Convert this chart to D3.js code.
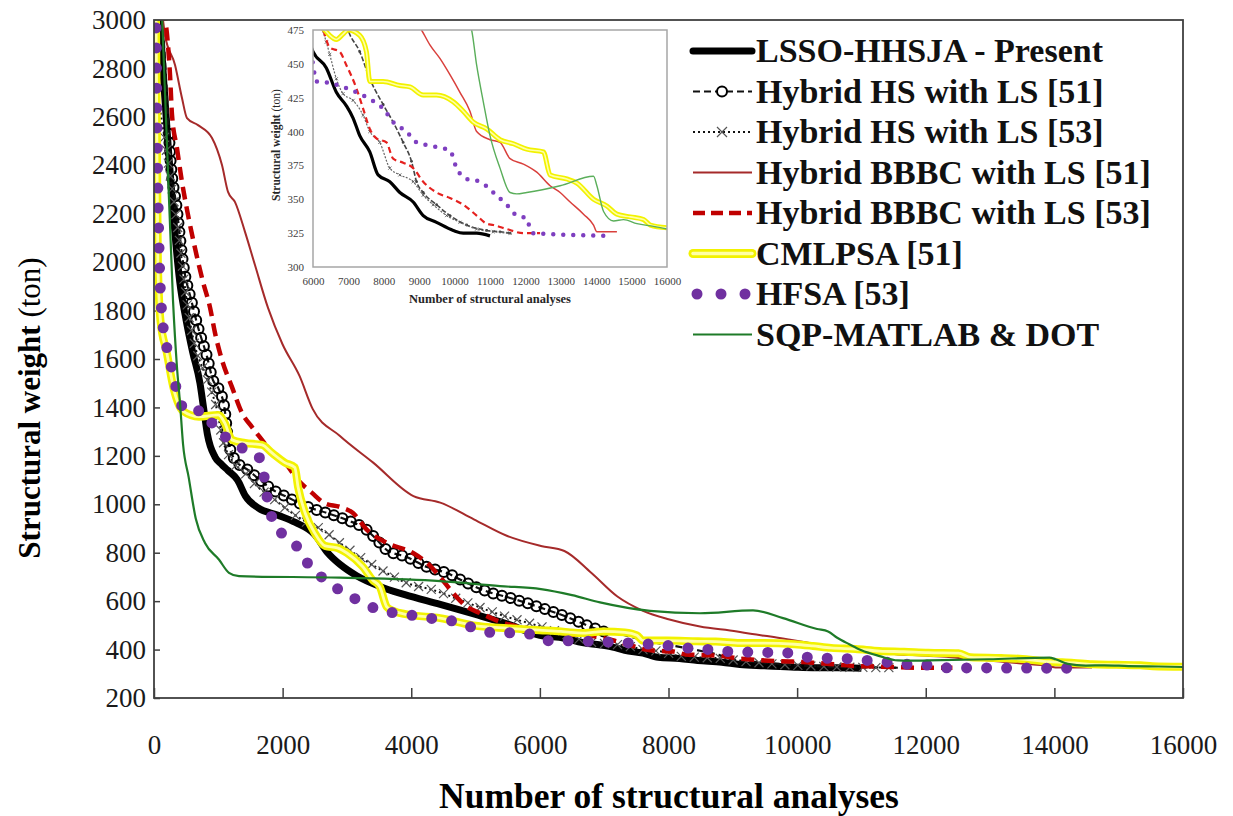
<!DOCTYPE html>
<html>
<head>
<meta charset="utf-8">
<script src="https://cdnjs.cloudflare.com/ajax/libs/d3/7.8.5/d3.min.js"></script>
<style>
  body { margin: 0; background: #fff; }
  text { font-family: "Liberation Serif", "Times New Roman", serif; }
</style>
</head>
<body>
<div id="chart"></div>
<script>
// ----------------- //
// Data: [number of structural analyses, structural weight (ton)]
// ----------------- //
var lsso = [[80,3050],[150,2750],[220,2480],[300,2200],[400,1920],[500,1760],[600,1630],[715,1500],[770,1400],[830,1290],[950,1195],[1050,1165],[1150,1140],[1300,1100],[1420,1035],[1620,985],[1930,955],[2200,925],[2500,875],[2700,800],[2900,750],[3150,705],[3500,662],[3900,627],[4450,587],[5000,545],[5500,505],[6000,459],[6377,447],[6660,429],[6943,419],[7132,410],[7320,397],[7604,385],[7840,368],[8170,363],[8453,355],[8830,348],[9113,338],[9490,333],[9962,327],[10245,325],[10623,325],[11000,323]]

var hs51 = [[120,3050],[200,2700],[250,2450],[357,2216],[450,2000],[590,1831],[684,1732],[824,1610],[917,1513],[1000,1480],[1100,1390],[1150,1270],[1260,1183],[1460,1142],[1650,1100],[1850,1059],[2070,1030],[2380,990],[2690,964],[3000,935],[3310,894],[3470,852],[3620,811],[3930,782],[4245,741],[4556,716],[4867,675],[5178,640],[5490,617],[5800,592],[6100,565],[6420,535],[6780,495],[6990,475],[7320,459],[7604,439],[7981,420],[8264,407],[8547,392],[8783,378],[8925,363],[9113,355],[9490,346],[9868,338],[10340,331],[10906,327],[11283,326],[11566,325]]

var hs53 = [[0,2780],[200,2450],[380,2120],[530,1800],[650,1640],[750,1567],[870,1484],[980,1389],[1070,1266],[1210,1183],[1415,1129],[1617,1071],[1882,1018],[2146,964],[2395,923],[2580,900],[2890,840],[3200,782],[3620,716],[3930,675],[4340,646],[4760,605],[5180,563],[5490,535],[5890,505],[6200,480],[6377,466],[6472,457],[6660,439],[6849,428],[7132,423],[7415,412],[7604,400],[7887,392],[8170,373],[8453,368],[8830,363],[9113,353],[9396,346],[9774,338],[10151,333],[10623,328],[11094,326],[11566,325]]

var bbbc51 = [[140,3000],[171,2938],[327,2814],[435,2678],[513,2595],[684,2566],[902,2513],[1057,2401],[1151,2290],[1260,2248],[1415,2125],[1570,1988],[1773,1811],[2000,1660],[2261,1531],[2469,1393],[2887,1283],[3408,1172],[4034,1034],[4451,1007],[4973,938],[5494,869],[6016,828],[6381,807],[6798,717],[7200,620],[7604,560],[8000,525],[8490,495],[9066,475],[9302,464],[9585,454],[9868,442],[10151,429],[10434,415],[10623,400],[11000,394],[11283,392],[11566,380],[11943,376],[12321,370],[12698,360],[12981,355],[13264,348],[13642,339],[13925,331],[14019,326],[14585,326]]

var bbbc53 = [[150,3050],[249,2773],[280,2608],[357,2471],[435,2331],[529,2195],[637,2058],[762,1918],[871,1813],[949,1707],[1057,1596],[1213,1484],[1368,1377],[1524,1319],[1679,1266],[1835,1212],[2037,1171],[2239,1100],[2457,1047],[2650,1005],[2892,989],[3094,964],[3312,894],[3623,840],[4028,799],[4245,758],[4447,700],[4649,634],[4867,576],[5069,551],[5380,515],[5893,485],[6283,475],[6472,462],[6755,459],[6943,449],[7226,432],[7415,417],[7604,402],[7792,395],[8075,392],[8264,380],[8547,377],[8830,373],[9113,363],[9490,355],[9868,351],[10245,346],[10623,338],[10906,332],[11094,331],[11472,328],[11943,325],[12415,325]]

var cmlpsa = [[30,3050],[45,2500],[60,2000],[100,1760],[200,1625],[300,1484],[450,1385],[700,1362],[1000,1369],[1100,1336],[1213,1266],[1415,1253],[1680,1245],[1835,1212],[2040,1171],[2190,1152],[2240,1071],[2350,964],[2500,881],[2660,828],[2850,820],[3000,799],[3250,741],[3400,687],[3510,660],[3620,576],[3720,560],[3934,545],[4447,530],[4961,500],[5489,488],[6000,480],[6330,475],[6472,471],[6660,468],[6849,472],[6990,475],[7320,471],[7509,459],[7604,437],[7981,437],[8453,434],[8736,433],[9113,427],[9490,427],[9962,422],[10245,415],[10528,407],[10906,402],[11283,394],[11660,391],[12038,387],[12509,385],[12698,368],[13170,365],[13453,362],[13925,350],[14302,345],[14585,339],[14962,337],[15340,335],[15528,331],[16000,329]]

var hfsa = [[30,3050],[50,2500],[80,2040],[120,1790],[170,1690],[250,1590],[357,1469],[488,1386],[774,1386],[957,1310],[1166,1269],[1400,1227],[1661,1186],[1720,1100],[1765,1020],[1844,938],[2026,869],[2261,814],[2417,745],[2652,690],[2913,641],[3199,600],[3486,565],[3799,549],[4112,538],[4425,524],[4738,514],[5025,483],[5338,469],[5651,469],[5963,455],[6047,442],[6094,437],[6472,436],[6849,433],[7226,429],[7604,424],[7981,417],[8264,407],[8642,400],[8925,392],[9207,390],[9585,388],[9868,386],[10057,373],[10340,365],[10717,363],[11094,355],[11472,346],[11755,338],[12038,336],[12132,328],[12226,325],[14396,323]]

var sqp = [[120,3050],[200,2500],[295,1844],[357,1567],[404,1420],[451,1250],[540,1110],[650,940],[793,840],[1009,772],[1166,717],[1322,703],[2887,697],[4451,683],[5380,662],[6016,650],[6500,625],[6935,595],[7713,560],[8490,550],[9314,562],[9781,530],[10310,485],[10481,475],[10623,449],[10811,422],[11000,397],[11283,373],[11566,355],[11755,354],[12038,355],[12981,360],[13925,367],[14019,360],[14208,341],[14491,334],[14774,335],[15151,332],[15623,330],[16000,328]]

var seriesNames = ["LSSO-HHSJA - Present", "Hybrid HS with LS [51]", "Hybrid HS with LS [53]",
    "Hybrid BBBC with LS [51]", "Hybrid BBBC with LS [53]", "CMLPSA [51]", "HFSA [53]", "SQP-MATLAB & DOT"]

var yTicks = d3.range(200, 3001, 200)
var xTicks = d3.range(0, 16001, 2000)
var insetXTicks = d3.range(6000, 16001, 1000)
var insetYTicks = d3.range(300, 476, 25)

// Styles for each series, main chart (m) and inset (i)
var styles = [
    { data: lsso,   key: "lsso",  color: "#000",    m: { w: 7 },   i: { w: 3.2 } },
    { data: hs51,   key: "hs51",  color: "#111",    m: { w: 2.2, dash: "7,4" }, i: { w: 1.6, dash: "5,2", color: "#444" } },
    { data: hs53,   key: "hs53",  color: "#111",    m: { w: 2, dash: "2,3" },   i: { w: 1.2, dash: "2,1.5", color: "#666" } },
    { data: bbbc51, key: "b51",   color: "#a52a2a", m: { w: 2 },   i: { w: 1.5, color: "#d9403c" } },
    { data: bbbc53, key: "b53",   color: "#c00000", m: { w: 4.5, dash: "13,7" }, i: { w: 2.2, dash: "6,4", color: "#e5211f" } },
    { data: cmlpsa, key: "cml",   color: "#f2f200", m: { w: 8 },   i: { w: 5 } },
    { data: hfsa,   key: "hfsa",  color: "#7030a0", m: { w: 11, dash: "0,20" }, i: { w: 4.5, dash: "0,10", color: "#7e3fc0" } },
    { data: sqp,    key: "sqp",   color: "#1e7b28", m: { w: 2.2 }, i: { w: 1.4, color: "#5aae5a" } }
]

var W = 1233, H = 816
var svg = d3.select("#chart").append("svg")
    .attr("width", W).attr("height", H)

// ----------------- //
// Main chart
// ----------------- //
var plot = { left: 154, right: 1183, top: 20, bottom: 698 }

var x = d3.scaleLinear().domain([0, 16000]).range([plot.left, plot.right])
var y = d3.scaleLinear().domain([200, 3000]).range([plot.bottom, plot.top])

var defs = svg.append("defs")
defs.append("clipPath").attr("id", "clipMain")
    .append("rect")
    .attr("x", plot.left).attr("y", plot.top)
    .attr("width", plot.right - plot.left).attr("height", plot.bottom - plot.top)

// Axes
var yAxis = svg.append("g")
    .attr("transform", "translate(" + plot.left + ",0)")
    .call(d3.axisLeft(y).tickValues(yTicks).tickSize(-6).tickPadding(8).tickFormat(d3.format("d")))
var xAxis = svg.append("g")
    .attr("transform", "translate(0," + plot.bottom + ")")
    .call(d3.axisBottom(x).tickValues(xTicks).tickSize(-10).tickPadding(37).tickFormat(d3.format("d")))

svg.selectAll(".domain").remove()
svg.selectAll(".tick line").attr("stroke", "#404040").attr("stroke-width", 1.5)
svg.selectAll(".tick text").attr("font-size", "27px").attr("fill", "#1a1a1a")
    .style("font-family", "'Liberation Serif', serif")

var gMain = svg.append("g").attr("clip-path", "url(#clipMain)")

// markers spaced evenly along the drawn line (dense Excel-style markers)
function markersAlong(pathNode, step, xmin, xmax) {
    var len = pathNode.getTotalLength(), out = []
    for (var l = 0; l <= len; l += step) {
        var p = pathNode.getPointAtLength(l)
        if (p.x >= xmin && p.x <= xmax) out.push(p)
    }
    return out
}

function drawSeries(g, s, sx, sy, inset) {
    var st = inset ? s.i : s.m
    var col = st.color || s.color
    var ln = d3.line()
        .x(function(d) { return sx(d[0]) })
        .y(function(d) { return sy(d[1]) })
        .curve(d3.curveMonotoneX)

    var path = g.append("path")
        .datum(s.data)
        .attr("d", ln)
        .attr("fill", "none")
        .attr("stroke", col)
        .attr("stroke-width", st.w)
        .attr("stroke-dasharray", st.dash || null)
        .attr("stroke-linecap", s.key === "hfsa" ? "round" : "butt")
        .attr("stroke-linejoin", "round")

    if (s.key === "cml") {
        g.append("path")
            .datum(s.data)
            .attr("d", ln)
            .attr("fill", "none")
            .attr("stroke", "#ffffa6")
            .attr("stroke-width", inset ? 1.6 : 2.8)
    }

    // markers
    if (s.key === "hs51") {
        if (inset) {
            g.selectAll(null).data(s.data).enter().append("circle")
                .attr("cx", function(d) { return sx(d[0]) })
                .attr("cy", function(d) { return sy(d[1]) })
                .attr("r", 1.4).attr("fill", "#444")
        } else {
            var pts = markersAlong(path.node(), 9, sx(230), sx(7000))
            g.selectAll(null).data(pts).enter().append("circle")
                .attr("cx", function(p) { return p.x })
                .attr("cy", function(p) { return p.y })
                .attr("r", 5).attr("fill", "none")
                .attr("stroke", "#000").attr("stroke-width", 2)
        }
    }
    if (s.key === "hs53") {
        var sz = inset ? 1.6 : 4.5
        var cross = "M" + (-sz) + "," + (-sz) + "L" + sz + "," + sz + "M" + (-sz) + "," + sz + "L" + sz + "," + (-sz)
        var cpts = inset
            ? s.data.map(function(d) { return { x: sx(d[0]), y: sy(d[1]) } })
            : markersAlong(path.node(), 13, sx(150), sx(11566))
        if (!inset) cpts.unshift({ x: sx(s.data[0][0]), y: sy(s.data[0][1]) })
        g.selectAll(null).data(cpts).enter().append("path")
            .attr("transform", function(p) { return "translate(" + p.x + "," + p.y + ")" })
            .attr("d", cross)
            .attr("stroke", inset ? "#555" : "#555")
            .attr("stroke-width", inset ? 0.8 : 1.2)
            .attr("fill", "none")
    }
}

styles.forEach(function(s) { drawSeries(gMain, s, x, y, false) })

// Frame
svg.append("rect")
    .attr("x", plot.left).attr("y", plot.top)
    .attr("width", plot.right - plot.left).attr("height", plot.bottom - plot.top)
    .attr("fill", "none").attr("stroke", "#404040").attr("stroke-width", 1.8)

// Axis titles
svg.append("text")
    .attr("text-anchor", "middle")
    .attr("x", 669).attr("y", 808)
    .attr("font-size", "35.5px").attr("font-weight", "bold")
    .text("Number of structural analyses")

var yt = svg.append("text")
    .attr("text-anchor", "middle")
    .attr("transform", "translate(40,408) rotate(-90)")
    .attr("font-size", "31px")
yt.append("tspan").attr("font-weight", "bold").text("Structural weight ")
yt.append("tspan").text("(ton)")

// ----------------- //
// Inset
// ----------------- //
var ip = { left: 313, right: 667, top: 30, bottom: 267 }
var ix = d3.scaleLinear().domain([6000, 16000]).range([ip.left, ip.right])
var iy = d3.scaleLinear().domain([300, 475]).range([ip.bottom, ip.top])

svg.append("rect")
    .attr("x", 286).attr("y", 22).attr("width", 388).attr("height", 286)
    .attr("fill", "#fff")

defs.append("clipPath").attr("id", "clipInset")
    .append("rect")
    .attr("x", ip.left).attr("y", ip.top)
    .attr("width", ip.right - ip.left).attr("height", ip.bottom - ip.top)

var gInset = svg.append("g").attr("clip-path", "url(#clipInset)")
styles.forEach(function(s) { drawSeries(gInset, s, ix, iy, true) })

svg.append("rect")
    .attr("x", ip.left).attr("y", ip.top)
    .attr("width", ip.right - ip.left).attr("height", ip.bottom - ip.top)
    .attr("fill", "none").attr("stroke", "#a6a6a6").attr("stroke-width", 1.5)

var iya = svg.append("g").attr("transform", "translate(" + ip.left + ",0)")
    .call(d3.axisLeft(iy).tickValues(insetYTicks).tickSize(0).tickPadding(9))
var ixa = svg.append("g").attr("transform", "translate(0," + ip.bottom + ")")
    .call(d3.axisBottom(ix).tickValues(insetXTicks).tickSize(0).tickPadding(10).tickFormat(d3.format("d")))
iya.select(".domain").remove()
ixa.select(".domain").remove()
iya.selectAll("text").attr("font-size", "11px").attr("fill", "#404040")
    .style("font-family", "'Liberation Serif', serif")
ixa.selectAll("text").attr("font-size", "11px").attr("fill", "#404040")
    .style("font-family", "'Liberation Serif', serif")

svg.append("text")
    .attr("text-anchor", "middle")
    .attr("x", 490).attr("y", 303)
    .attr("font-size", "12.5px").attr("font-weight", "bold").attr("fill", "#262626")
    .text("Number of structural analyses")

var iyt = svg.append("text")
    .attr("text-anchor", "middle")
    .attr("transform", "translate(280,145) rotate(-90)")
    .attr("font-size", "11.5px").attr("fill", "#262626")
iyt.append("tspan").attr("font-weight", "bold").text("Structural weight ")
iyt.append("tspan").text("(ton)")

// ----------------- //
// Legend
// ----------------- //
var legend = svg.append("g")
var lx0 = 693, lx1 = 752, ltx = 756

seriesNames.forEach(function(name, k) {
    var base = 62 + k * 40.5
    var cy = base - 11
    var g = legend.append("g")
    var s = styles[k]

    if (s.key === "hfsa") {
        [697, 721, 745].forEach(function(px) {
            g.append("circle").attr("cx", px).attr("cy", cy).attr("r", 5.5).attr("fill", s.color)
        })
    } else {
        g.append("line")
            .attr("x1", lx0).attr("x2", lx1).attr("y1", cy).attr("y2", cy)
            .attr("stroke", s.color)
            .attr("stroke-width", s.key === "lsso" ? 7 : s.key === "cml" ? 9 : s.key === "b53" ? 4.5 : 2.2)
            .attr("stroke-dasharray", s.key === "hs51" ? "7,4" : s.key === "hs53" ? "2,3" : s.key === "b53" ? "12,6" : null)
            .attr("stroke-linecap", (s.key === "lsso" || s.key === "cml") ? "round" : "butt")
        if (s.key === "cml") {
            g.append("line")
                .attr("x1", lx0).attr("x2", lx1).attr("y1", cy).attr("y2", cy)
                .attr("stroke", "#ffffa6").attr("stroke-width", 3.5).attr("stroke-linecap", "round")
        }
        if (s.key === "hs51") {
            g.append("circle").attr("cx", 722).attr("cy", cy).attr("r", 5)
                .attr("fill", "#fff").attr("stroke", "#000").attr("stroke-width", 2)
        }
        if (s.key === "hs53") {
            g.append("path")
                .attr("d", "M717," + (cy - 5) + "L727," + (cy + 5) + "M717," + (cy + 5) + "L727," + (cy - 5))
                .attr("stroke", "#555").attr("stroke-width", 1.2)
        }
    }

    g.append("text")
        .attr("x", ltx).attr("y", base)
        .attr("font-size", "34px").attr("font-weight", "bold").attr("fill", "#111")
        .text(name)
})
</script>
</body>
</html>
